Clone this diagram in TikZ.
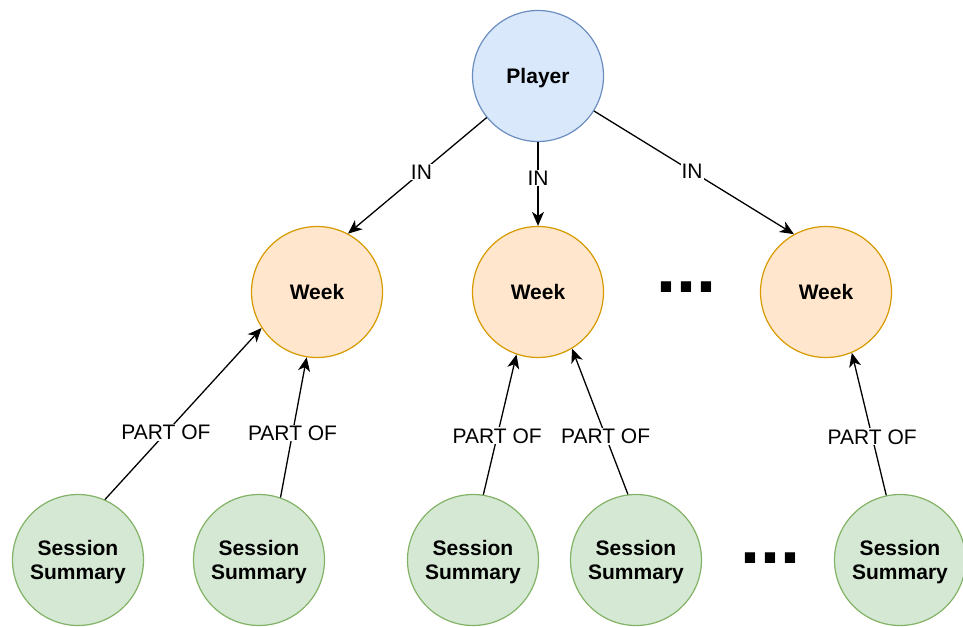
\documentclass[tikz,border=0pt]{standalone}
\usepackage{fontspec}
\setmainfont{Liberation Sans}
\usepackage{tikz}
\usetikzlibrary{arrows.meta}
\definecolor{PlayerFill}{HTML}{DAE8FC}
\definecolor{PlayerLine}{HTML}{6C8EBF}
\definecolor{WeekFill}{HTML}{FFE6CC}
\definecolor{WeekLine}{HTML}{D79B00}
\definecolor{SessFill}{HTML}{D5E8D4}
\definecolor{SessLine}{HTML}{82B366}
% node text, moved a little down inside the circle
\newcommand{\ctext}[1]{\raisebox{-2.5pt}[\height][\depth]{\begin{tabular}{@{}c@{}}#1\end{tabular}}}

\begin{document}
\begin{tikzpicture}[x=1pt, y=-1pt, align=center,
    every node/.style={font=\fontsize{21}{24}\selectfont},
    ent/.style={circle, minimum size=131pt, inner sep=0pt, line width=1.2pt, font=\fontsize{21}{24}\selectfont\bfseries},
    player/.style={ent, fill=PlayerFill, draw=PlayerLine},
    week/.style={ent, fill=WeekFill, draw=WeekLine},
    sess/.style={ent, fill=SessFill, draw=SessLine},
    lbl/.style={fill=white, inner sep=1pt},
    rel/.style={line width=1.3pt, -{Stealth[length=14pt, width=12pt, inset=4pt]}},
    more/.style={anchor=base, inner sep=0pt, font=\fontsize{72}{72}\selectfont\bfseries}]
      \useasboundingbox (0,0) rectangle (963,626);

      \node (player) [player] at (538,76) {\ctext{Player}};

      \node (week1) [week] at (317,292) {\ctext{Week}};
      \node (week2) [week] at (538,292) {\ctext{Week}};
      \node (week3) [week] at (826,292) {\ctext{Week}};
      \node (moreweeks) [more] at (686,292) {...};

      \node (sess1) [sess] at (78,560) {\ctext{Session\\Summary}};
      \node (sess2) [sess] at (259,560) {\ctext{Session\\Summary}};
      \node (sess3) [sess] at (473,560) {\ctext{Session\\Summary}};
      \node (sess4) [sess] at (636,560) {\ctext{Session\\Summary}};
      \node (sess5) [sess] at (900,560) {\ctext{Session\\Summary}};
      \node (moresess) [more] at (770,563) {...};

      \draw[rel] (player.219.5) -- (week1.62) node[lbl, pos=0.47] {IN};
      \draw[rel] (player.south) -- (week2.north) node[lbl, pos=0.43] {IN};
      \draw[rel] (player.-32) -- (week3.119) node[lbl, pos=0.49] {IN};

      \draw[rel] (sess1.66) -- (week1.213.7) node[lbl, pos=0.39] {PART OF};
      \draw[rel] (sess2.71) -- (week1.261) node[lbl, pos=0.46] {PART OF};
      \draw[rel] (sess3.81.5) -- (week2.251.6) node[lbl, pos=0.42] {PART OF};
      \draw[rel] (sess4.97) -- (week2.301) node[lbl, pos=0.40] {PART OF};
      \draw[rel] (sess5.102) -- (week3.293) node[lbl, pos=0.41] {PART OF};
    \end{tikzpicture}
\end{document}
